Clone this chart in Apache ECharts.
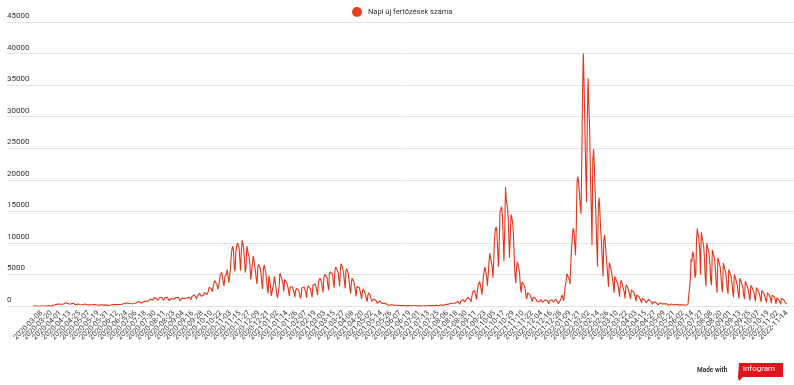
<!DOCTYPE html>
<html>
<head>
<meta charset="utf-8">
<script src="https://cdn.jsdelivr.net/npm/echarts@6/dist/echarts.min.js"></script>
<style>
html,body{margin:0;padding:0;background:#fff;}
#c{width:794px;height:385px;}
</style>
</head>
<body>
<div id="c"></div>
<script>
// ---- data ----
const seriesName = 'Napi új fertőzések száma';
const startDate = '2020-02-26';
const endDate = '2022-11-14';
const missingRanges = [['2022-06-11', '2022-07-10']];
const missingDays = ['2022-07-24', '2022-10-23', '2022-10-30'];
const yTicks = [0, 5000, 10000, 15000, 20000, 25000, 30000, 35000, 40000, 45000];

const cases2020 = [
1,0,1,0,
0,0,0,0,0,2,1,6,2,2,10,4,19,8,31,44,23,14,29,50,60,66,143,146,144,136,263,186,293,308,244,
251,288,344,313,310,193,358,523,295,327,347,350,270,301,366,249,427,346,276,212,398,334,331,295,265,237,214,236,190,306,
263,305,274,244,198,330,283,182,190,134,188,190,249,243,210,167,166,206,190,143,126,175,190,123,208,145,131,165,183,179,119,
92,96,123,147,269,172,247,204,138,213,185,248,247,219,160,229,315,320,314,322,301,432,269,265,460,330,325,391,321,283,
353,413,420,403,396,360,555,614,607,698,777,664,432,449,593,695,757,777,767,619,542,783,977,1112,1030,932,898,1120,1284,1356,1295,
1229,1098,868,1130,1352,1345,1378,1344,1199,854,1084,1331,1454,1408,1324,1064,871,1166,1185,1182,1298,1263,1060,772,1199,1343,1311,1394,1365,1059,850,
1016,1102,1244,1399,1189,1150,883,1281,1301,1310,1408,1367,1122,1032,1473,1713,1380,1767,1617,1438,1112,1520,1767,1638,2036,1800,1529,1376,1810,1714,
2158,2343,2034,1789,1591,2296,2958,3130,2919,2712,2280,1990,3517,4016,3952,3901,3400,2675,2962,3745,4848,5028,5343,5080,3624,3181,4651,4547,5053,5753,4802,
3685,3497,5760,7733,9000,9500,8800,6100,5500,8500,9500,10000,10269,9400,7500,5600,8800,10400,9800,9100,7300,5300,6200,9500,8800,8100,7700,6400,4200,5400,
6700,7900,7300,7000,5400,4200,3500,6200,6600,6400,6000,5100,3600,2700,5800,6500,5900,5300,4300,2800,2000,4800,4200,3300,1600,1800,1900,3500,4700,4500,2900
];

const cases2021 = [
1800,1300,1300,3000,5200,5500,5000,4100,3400,2300,4200,4300,3900,3600,3100,2400,1600,3000,3100,2800,3000,2700,2100,1400,2400,2800,2800,2600,2500,1900,1200,
1600,2900,3000,3200,3000,2600,2100,1300,2800,3200,3300,3000,2700,1900,1400,3300,3400,3600,3500,3200,2400,1700,3900,4100,4400,4300,3800,2900,
2100,4500,5000,5300,5100,4500,3300,2500,5000,5400,5700,5500,5000,3700,2900,5600,6200,6300,6100,5400,4300,3100,6000,6700,6300,6100,5300,3900,2800,5500,5900,
5500,5000,4100,2900,2000,3900,4400,4200,3800,3300,2400,1500,3100,3400,3100,2900,2400,1800,1100,2300,2700,2500,2200,1900,1200,700,1700,2100,1900,1700,
1100,700,400,1100,1300,1100,900,700,400,260,620,790,670,530,420,290,160,420,430,360,300,270,170,90,270,280,230,210,160,130,50,
150,130,110,110,90,50,30,60,100,80,75,55,38,20,54,75,57,49,48,25,17,37,41,45,42,35,22,11,24,31,
31,37,28,14,9,36,42,41,32,24,14,8,40,57,52,67,65,31,23,85,94,96,113,94,60,41,131,161,192,200,180,
70,131,257,284,311,301,264,143,276,392,425,467,442,332,180,458,576,694,733,722,522,311,749,978,1054,1030,906,653,418,985,1235,
1389,1469,1440,1049,635,1391,2095,2355,2510,2382,1771,1053,2190,3106,3531,3897,3748,2668,1788,3315,4709,5770,6134,6001,4568,3212,5044,7012,8338,8652,
8317,6193,4473,7213,10652,12032,12558,11806,9013,6186,9964,15037,15267,15733,14464,10887,7111,12125,18863,16800,16100,15000,11800,7600,10900,14500,14000,13200,11600,7900,4900,
3618,5949,7021,6467,5962,4895,2922,2113,3804,4003,3583,3173,2614,1614,1100,2099,2285,2037,1848,1631,1083,684,1391,1478,1296,1212,1104,704,450,877,
657,937,1016,906,592,323,763,924,971,892,869,560,373,821,1106,1078,990,874,606,404,922,1070,1051,961,413,258,432,969,1258,1746,1722
];

const cases2022 = [
800,1046,3160,3813,5102,5221,5184,4218,3462,6554,9278,10896,12314,11935,9856,8035,12758,19800,20500,19500,17900,15800,14570,23055,34255,40018,34384,27815,21541,16437,29101,
36104,31825,27832,20916,15856,9584,23155,24862,22016,17882,13873,9925,6210,15961,17135,14987,12209,10063,7452,4687,10458,11224,9636,8068,6424,4691,3022,6850,
6880,6005,5204,4355,3348,2116,4688,4989,4543,3774,3262,2518,1487,3609,4048,3726,3162,2707,2194,1190,3009,3356,3068,2641,2334,1787,1103,2556,2822,2541,2203,
1971,1403,756,1747,1870,1693,1448,1276,874,532,1224,1284,1095,938,654,519,287,265,1059,1085,893,703,497,284,653,792,645,558,447,316,
189,403,512,458,382,340,261,165,360,467,401,341,292,218,125,299,344,334,266,238,171,101,227,267,273,213,177,127,72,180,209,
214,197,180,150,110,60,190,230,210,180,
4100,7400,7000,8600,8200,7000,4500,5000,10800,12300,11300,10500,8700,5000,11700,10900,10200,9500,7600,4600,
3100,10000,9300,8800,8200,6500,4000,3300,8900,8400,7900,7300,5700,3500,2100,7600,7200,6700,6200,4800,3000,2200,6800,6300,5800,5300,4100,2700,1900,5800,5400,
5000,4600,3600,2200,1400,5000,4600,4200,3900,3100,1900,1200,4400,4100,3800,3500,2800,1700,1100,3900,3600,3300,3000,2400,1500,900,3300,3000,2800,2600,
2100,1300,750,2900,2700,2500,2300,1900,1200,650,2500,2300,2100,1900,1500,950,550,2100,1900,1800,1600,1200,450,1700,1600,1500,1400,1000,350,
1300,1200,1100,900,600,280,1200,1100,1000,950,750,500,260,300
];

// ---- build categories (dates with reporting gaps removed) ----
function fmt(d){ return d.toISOString().slice(0,10); }
const skip = new Set(missingDays);
missingRanges.forEach(([a,b]) => {
  for (let t = Date.parse(a); t <= Date.parse(b); t += 86400000) skip.add(fmt(new Date(t)));
});
const categories = [];
for (let t = Date.parse(startDate); t <= Date.parse(endDate); t += 86400000) {
  const s = fmt(new Date(t));
  if (!skip.has(s)) categories.push(s);
}
const values = cases2020.concat(cases2021, cases2022);

const FONT = 'Roboto, "Noto Sans", sans-serif';
const labelStyle = { rotate: 45, fontSize: 7.5, color: '#3a3a3a', margin: 6, hideOverlap: false };
const chart = echarts.init(document.getElementById('c'));
chart.setOption({
  animation: false,
  textStyle: { fontFamily: FONT },
  legend: {
    data: [seriesName], top: 2, left: 347, icon: 'circle',
    itemWidth: 10, itemHeight: 10, itemGap: 5,
    textStyle: { fontSize: 7.5, color: '#333', padding: [0,0,0,1] }
  },
  grid: [
    { left: 7, right: 0, top: 22, bottom: 79 },
    { left: 33, right: 7, top: 22, bottom: 79 }
  ],
  xAxis: [
    { type: 'category', gridIndex: 0, show: false, data: ['x'] },
    { type: 'category', gridIndex: 1, position: 'bottom', offset: 0, data: categories, boundaryGap: false,
      axisLine: { show: false }, axisTick: { show: false },
      axisLabel: Object.assign({ interval: (i) => i % 24 === 11 }, labelStyle) },
    { type: 'category', gridIndex: 1, position: 'bottom', offset: 0, data: categories, boundaryGap: false,
      axisLine: { show: false }, axisTick: { show: false },
      axisLabel: Object.assign({ interval: (i) => i % 24 === 23 }, labelStyle) }
  ],
  yAxis: [
    { type: 'value', gridIndex: 0, min: yTicks[0], max: yTicks[yTicks.length-1], interval: yTicks[1]-yTicks[0],
      axisLine: { show: false }, axisTick: { show: false },
      splitLine: { lineStyle: { color: '#e4e4e4', width: 1 } },
      axisLabel: { inside: true, margin: 0, verticalAlign: 'bottom', padding: [0,0,2,0], fontSize: 8, color: '#333',
                   formatter: (v) => String(v) } },
    { type: 'value', gridIndex: 1, min: yTicks[0], max: yTicks[yTicks.length-1], interval: yTicks[1]-yTicks[0], show: false, splitLine: { show: false } }
  ],
  series: [{
    name: seriesName, type: 'line', xAxisIndex: 1, yAxisIndex: 1, data: values,
    showSymbol: false, symbol: 'circle',
    lineStyle: { width: 1.1, color: '#e2361b' },
    itemStyle: { color: '#e8401c' }
  }],
  graphic: [
    { type: 'text', left: 697, top: 367, style: { text: 'Made with', fontSize: 6.5, fontWeight: 'bold', fill: '#333', fontFamily: FONT } },
    { type: 'polygon', shape: { points: [[739,363],[783,363],[783,377],[743,377],[739,381],[738,377]] }, style: { fill: '#e1141c' } },
    { type: 'text', left: 743, top: 365, style: { text: 'infogram', fontSize: 8, fill: '#fff', fontFamily: FONT } }
  ]
});
</script>
</body>
</html>
